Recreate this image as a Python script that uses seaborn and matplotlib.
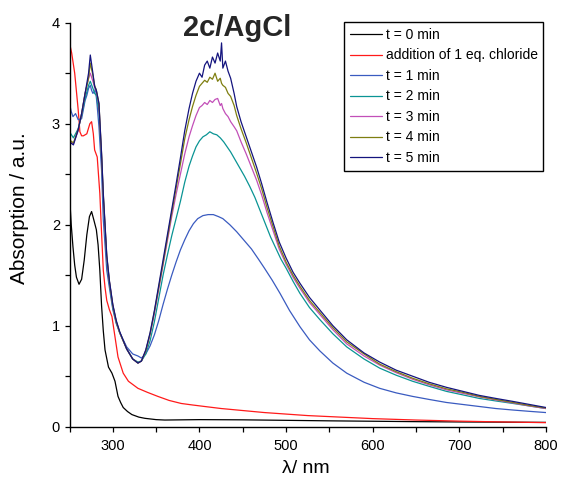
import numpy as np
import pandas as pd
import matplotlib
matplotlib.use("Agg")
import matplotlib.pyplot as plt
from matplotlib.ticker import MultipleLocator
import seaborn as sns

# ---------------- data ----------------
labels = ["t = 0 min", "addition of 1 eq. chloride", "t = 1 min", "t = 2 min",
          "t = 3 min", "t = 4 min", "t = 5 min"]
colors = ["#000000", "#FF1A1A", "#3A5BC0", "#0A9494", "#C24FB8", "#7E7E10", "#14147E"]

wl_t0 = [250, 252, 254, 256, 258, 261, 264, 267, 270, 273, 275.5, 278, 281, 283, 285,
         287, 289, 291, 295, 299, 302.5, 306, 309, 312, 317, 322, 330, 337, 350, 360,
         380, 400, 450, 500, 550, 600, 650, 700, 750, 800]
a_t0 = [2.30, 2.00, 1.78, 1.60, 1.48, 1.41, 1.46, 1.65, 1.90, 2.08, 2.13, 2.05, 1.95, 1.80, 1.55,
        1.20, 0.95, 0.76, 0.59, 0.53, 0.45, 0.30, 0.24, 0.19, 0.15, 0.12, 0.095, 0.083, 0.07, 0.066,
        0.068, 0.07, 0.068, 0.063, 0.058, 0.054, 0.05, 0.047, 0.045, 0.043]

wl_cl = [250, 252.5, 256, 260, 262, 264, 266, 270, 273.5, 275.5, 277.5, 279, 282, 285, 287,
         289, 291, 293, 296, 299, 302.5, 306, 312, 318, 329, 340, 352, 365, 379, 392, 406,
         425, 450, 475, 500, 525, 550, 600, 650, 700, 750, 800]
a_cl = [3.80, 3.70, 3.50, 3.14, 2.92, 2.88, 2.88, 2.90, 3.00, 3.02, 2.90, 2.74, 2.67, 2.31, 1.92,
        1.55, 1.38, 1.25, 1.16, 1.09, 0.89, 0.69, 0.53, 0.45, 0.38, 0.34, 0.30, 0.26, 0.23, 0.215, 0.20,
        0.18, 0.16, 0.14, 0.125, 0.11, 0.10, 0.08, 0.066, 0.055, 0.047, 0.04]

wl_t1 = [250, 252, 254, 257, 260, 264, 268, 270, 272, 274, 275.5, 277, 279, 280, 282, 284, 287,
         289, 293, 296, 300, 304, 308, 316, 323, 329, 333, 338, 343, 348, 353, 358, 363, 368,
         373, 378, 383, 388, 393, 398, 404, 410, 416, 422, 427, 435, 443, 451, 460, 468, 475,
         484, 493, 504, 516, 527, 539, 554, 570, 590, 608, 627, 646, 665, 685, 704, 723, 742,
         762, 781, 800]
a_t1 = [3.20, 3.12, 3.07, 3.10, 3.04, 3.05, 3.23, 3.28, 3.35, 3.38, 3.33, 3.30, 3.32, 3.35, 3.17, 2.97, 2.54,
        2.05, 1.55, 1.38, 1.16, 1.02, 0.93, 0.79, 0.72, 0.70, 0.68, 0.72, 0.80, 0.91, 1.05, 1.21, 1.36, 1.50,
        1.63, 1.75, 1.85, 1.94, 2.01, 2.06, 2.09, 2.10, 2.10, 2.08, 2.06, 2.00, 1.93, 1.85, 1.76, 1.66, 1.57,
        1.45, 1.32, 1.15, 0.99, 0.86, 0.75, 0.63, 0.53, 0.44, 0.38, 0.335, 0.30, 0.27, 0.24, 0.22, 0.20, 0.18,
        0.165, 0.152, 0.14]

wl_t2 = [250, 254.5, 260, 264, 268, 272, 274, 277, 279, 281, 284, 287, 289, 293, 296, 300, 304,
         308, 316, 323, 329, 333, 338, 343, 348, 353, 358, 363, 368, 373, 378, 383, 388, 392,
         396, 400, 404, 408, 412, 416, 420, 424, 428, 432, 436, 440, 446, 452, 458, 464, 470,
         476, 482, 488, 494, 500, 508, 516, 527, 539, 554, 570, 590, 608, 627, 646, 665, 685,
         704, 723, 742, 762, 781, 800]
a_t2 = [2.92, 2.86, 2.95, 3.08, 3.25, 3.38, 3.42, 3.35, 3.30, 3.28, 3.12, 2.65, 2.25, 1.65, 1.42, 1.18, 1.03,
        0.93, 0.77, 0.67, 0.64, 0.65, 0.72, 0.85, 1.04, 1.27, 1.50, 1.70, 1.89, 2.06, 2.23, 2.42, 2.58, 2.68,
        2.77, 2.83, 2.87, 2.89, 2.92, 2.90, 2.89, 2.86, 2.82, 2.77, 2.72, 2.66, 2.57, 2.48, 2.38, 2.27, 2.14,
        2.01, 1.88, 1.77, 1.66, 1.57, 1.44, 1.32, 1.18, 1.06, 0.92, 0.79, 0.67, 0.58, 0.51, 0.45, 0.40, 0.35,
        0.315, 0.28, 0.255, 0.23, 0.205, 0.18]

wl_t345 = [250, 254.5, 260, 264, 268, 272, 274, 277, 279, 281, 284, 287, 289, 293, 296, 300, 304,
           308, 316, 323, 329, 333, 338, 343, 348, 353, 358, 363, 368, 373, 378, 383, 388, 392,
           396, 400, 403, 406, 409, 412, 415, 418, 421, 424, 425.5, 427, 430, 433, 436, 440, 443,
           448, 454, 460, 466, 472, 478, 485, 492, 500, 508, 516, 527, 539, 554, 570, 590, 608,
           627, 646, 665, 685, 704, 723, 742, 762, 781, 800]
a_t3 = [2.83, 2.80, 2.93, 3.10, 3.30, 3.45, 3.50, 3.42, 3.36, 3.32, 3.18, 2.68, 2.28, 1.68, 1.44, 1.20, 1.04,
        0.93, 0.77, 0.67, 0.63, 0.65, 0.75, 0.91, 1.12, 1.36, 1.60, 1.84, 2.08, 2.30, 2.50, 2.70, 2.87, 2.98,
        3.08, 3.16, 3.18, 3.21, 3.19, 3.23, 3.21, 3.24, 3.25, 3.18, 3.20, 3.15, 3.10, 3.07, 3.02, 2.97, 2.93,
        2.82, 2.70, 2.57, 2.44, 2.29, 2.12, 1.94, 1.76, 1.61, 1.48, 1.37, 1.23, 1.11, 0.96, 0.82, 0.70, 0.61,
        0.535, 0.47, 0.415, 0.365, 0.33, 0.295, 0.265, 0.235, 0.205, 0.18]
a_t4 = [2.84, 2.81, 2.94, 3.10, 3.30, 3.45, 3.60, 3.48, 3.38, 3.33, 3.20, 2.70, 2.30, 1.69, 1.44, 1.20, 1.04,
        0.93, 0.77, 0.67, 0.63, 0.65, 0.75, 0.92, 1.14, 1.38, 1.62, 1.87, 2.12, 2.36, 2.60, 2.85, 3.04, 3.17,
        3.28, 3.37, 3.40, 3.43, 3.41, 3.46, 3.44, 3.50, 3.42, 3.45, 3.40, 3.38, 3.36, 3.30, 3.27, 3.18, 3.08,
        2.95, 2.81, 2.66, 2.51, 2.35, 2.17, 1.98, 1.79, 1.63, 1.50, 1.39, 1.25, 1.13, 0.98, 0.84, 0.72, 0.62,
        0.545, 0.48, 0.425, 0.375, 0.34, 0.30, 0.27, 0.24, 0.21, 0.185]
a_t5 = [2.82, 2.79, 2.94, 3.10, 3.30, 3.50, 3.68, 3.50, 3.37, 3.33, 3.20, 2.71, 2.31, 1.70, 1.45, 1.21, 1.05,
        0.94, 0.77, 0.67, 0.63, 0.65, 0.76, 0.93, 1.15, 1.40, 1.65, 1.90, 2.15, 2.40, 2.66, 2.93, 3.15, 3.30,
        3.42, 3.50, 3.46, 3.58, 3.62, 3.55, 3.66, 3.60, 3.70, 3.62, 3.80, 3.55, 3.62, 3.52, 3.45, 3.30, 3.17,
        3.02, 2.87, 2.72, 2.57, 2.40, 2.22, 2.02, 1.83, 1.67, 1.53, 1.42, 1.28, 1.155, 1.00, 0.86, 0.73, 0.64,
        0.56, 0.50, 0.44, 0.39, 0.35, 0.31, 0.28, 0.25, 0.22, 0.19]

xticks = [300, 400, 500, 600, 700, 800]
yticks = [0, 1, 2, 3, 4]

series = [(wl_t0, a_t0), (wl_cl, a_cl), (wl_t1, a_t1), (wl_t2, a_t2),
          (wl_t345, a_t3), (wl_t345, a_t4), (wl_t345, a_t5)]

frames = []
for lab, (w, a) in zip(labels, series):
    frames.append(pd.DataFrame({"wl": w, "A": a, "series": lab}))
df = pd.concat(frames, ignore_index=True)

# ---------------- plot ----------------
sns.set_theme(style="ticks")
plt.rcParams['font.family'] = ['Liberation Sans', 'DejaVu Sans']

fig = plt.figure(figsize=(5.62, 4.90), dpi=100)
W, H = 562, 490
ax = fig.add_axes([69.5 / W, (H - 426.7) / H, 476.5 / W, 404 / H])

sns.lineplot(data=df, x="wl", y="A", hue="series", hue_order=labels,
             palette=dict(zip(labels, colors)), estimator=None, sort=True,
             linewidth=0.9, ax=ax)

ax.set_xlim(250, 800)
ax.set_ylim(0, 4)
ax.set_xticks(xticks)
ax.set_yticks(yticks)
ax.xaxis.set_minor_locator(MultipleLocator(50))
ax.yaxis.set_minor_locator(MultipleLocator(0.5))
sns.despine(ax=ax)
for s in ["left", "bottom"]:
    ax.spines[s].set_color("black")
    ax.spines[s].set_linewidth(1.0)
ax.tick_params(axis="both", which="both", direction="out", length=3.8, width=0.9,
               color="black", labelcolor="black", labelsize=10.5)
ax.tick_params(axis="x", which="major", pad=5)
ax.tick_params(axis="y", which="major", pad=3)

ax.set_xlabel("λ/ nm", fontsize=14, color="black")
ax.set_ylabel("Absorption / a.u.", fontsize=15, color="black")
ax.xaxis.set_label_coords((306 - 69.5) / 476.5, (426.7 - 468) / 404)
ax.xaxis.label.set_va("center")
ax.yaxis.set_label_coords((20 - 69.5) / 476.5, (426.7 - 208) / 404)
ax.yaxis.label.set_va("center")

ax.text((237.5 - 69.5) / 476.5, (426.7 - 28) / 404, "2c/AgCl", fontsize=21,
        fontweight="bold", ha="center", va="center", transform=ax.transAxes)

handles, labs = ax.get_legend_handles_labels()
leg = ax.legend(handles, labs, loc="upper right",
                bbox_to_anchor=(543.3 / W, (H - 22.3) / H), bbox_transform=fig.transFigure,
                frameon=True, fancybox=False, edgecolor="black", framealpha=1,
                fontsize=10, handlelength=2.3, handletextpad=0.3, labelspacing=0.47,
                borderpad=0.4, borderaxespad=0)
leg.get_frame().set_linewidth(1.0)
for t in leg.get_texts():
    t.set_color("black")

fig.savefig("out.png", dpi=100)
